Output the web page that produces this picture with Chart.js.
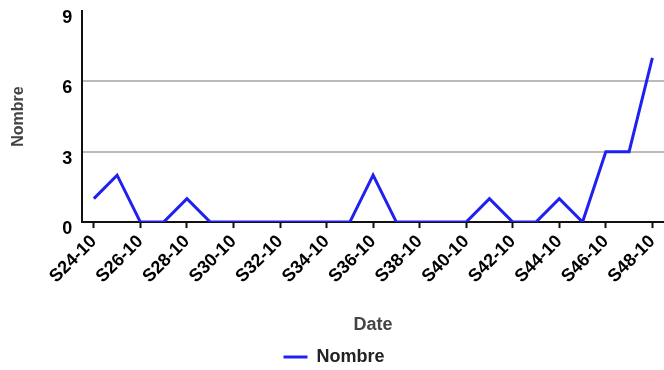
<!DOCTYPE html>
<html>
<head>
<meta charset="utf-8">
<script src="https://cdn.jsdelivr.net/npm/chart.js@4"></script>
<style>
  html, body { margin: 0; padding: 0; background: #fff; }
  #wrap { width: 664px; height: 370px; }
</style>
</head>
<body>
<div id="wrap"><canvas id="chart" width="664" height="370"></canvas></div>
<script>
// weekly counts, 2010
const weeks = ["S24-10", "S25-10", "S26-10", "S27-10", "S28-10", "S29-10", "S30-10", "S31-10", "S32-10",
    "S33-10", "S34-10", "S35-10", "S36-10", "S37-10", "S38-10", "S39-10", "S40-10", "S41-10", "S42-10",
    "S43-10", "S44-10", "S45-10", "S46-10", "S47-10", "S48-10"];
const nombre = [1, 2, 0, 0, 1, 0, 0, 0, 0, 0, 0, 0, 2, 0, 0, 0, 0, 1, 0, 0, 1, 0, 3, 3, 7];
const yTicks = [0, 3, 6, 9];

const font = "'Liberation Sans', Arial, sans-serif";
const blue = "#2020f0";

var ctx = document.getElementById("chart").getContext("2d");
new Chart(ctx, {
    type: "line",
    data: {
        labels: weeks,
        datasets: [{
            label: "Nombre",
            data: nombre,
            borderColor: blue,
            backgroundColor: blue,
            borderWidth: 3,
            pointRadius: 0,
            pointStyle: "line",
            tension: 0
        }]
    },
    options: {
        responsive: false,
        animation: false,
        layout: { padding: { top: 11, right: 0, left: 4, bottom: -6 } },
        plugins: {
            legend: {
                position: "bottom",
                labels: {
                    usePointStyle: true,
                    pointStyleWidth: 24,
                    color: "#222",
                    padding: 8,
                    font: { family: font, size: 18, weight: "bold" }
                }
            },
            tooltip: { enabled: false }
        },
        scales: {
            x: {
                offset: true,
                afterFit: axis => { axis.paddingRight = 0; },
                title: {
                    display: true,
                    text: "Date",
                    color: "#444",
                    font: { family: font, size: 18, weight: "bold" },
                    padding: { top: 24, bottom: 4 }
                },
                grid: {
                    drawOnChartArea: false,
                    offset: false,
                    tickLength: 6,
                    tickWidth: 2,
                    tickColor: c => (c.index % 2 === 0 ? "#111" : "rgba(0,0,0,0)")
                },
                border: { color: "#111", width: 2 },
                ticks: {
                    autoSkip: false,
                    maxRotation: 45,
                    minRotation: 45,
                    padding: 3,
                    color: "#000",
                    font: { family: font, size: 18, weight: "bold" },
                    callback: function (v, i) { return i % 2 === 0 ? weeks[i] : ""; }
                }
            },
            y: {
                min: 0,
                max: 9,
                afterBuildTicks: axis => { axis.ticks = yTicks.map(v => ({ value: v })); },
                afterFit: axis => { axis.paddingTop = 0; },
                title: {
                    display: true,
                    text: "Nombre",
                    color: "#444",
                    font: { family: font, size: 16, weight: "bold" },
                    padding: { top: 5, bottom: 24 }
                },
                grid: {
                    drawTicks: false,
                    color: c => (c.tick.value === 3 || c.tick.value === 6 ? "#bbb" : "rgba(0,0,0,0)"),
                    lineWidth: 2
                },
                border: { color: "#111", width: 2 },
                ticks: {
                    padding: 10,
                    labelOffset: 7,
                    color: "#000",
                    font: { family: font, size: 18, weight: "bold" }
                }
            }
        }
    }
});
</script>
</body>
</html>
